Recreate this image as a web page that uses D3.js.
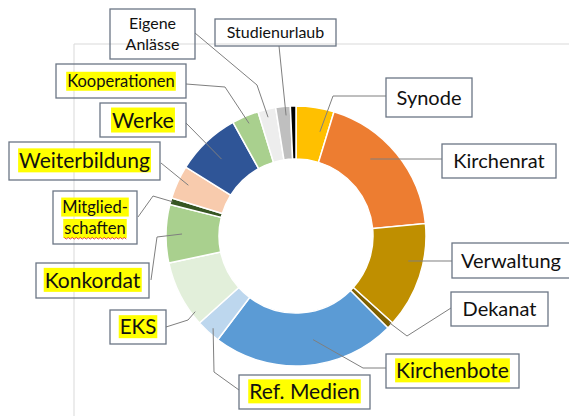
<!DOCTYPE html>
<html>
<head>
<meta charset="utf-8">
<script src="https://cdn.jsdelivr.net/npm/d3@7"></script>
<style>
  body { margin: 0; background: #fff; }
  svg { display: block; }
</style>
</head>
<body>
<svg id="chart" width="569" height="416"></svg>
<script>
// slices, clockwise from 12 o'clock
var categories = ["Synode", "Kirchenrat", "Verwaltung", "Dekanat", "Kirchenbote", "Ref. Medien",
    "EKS", "Konkordat", "Mitgliedschaften", "Weiterbildung", "Werke", "Kooperationen",
    "Eigene Anlässe", "Studienurlaub", "Sonstiges"];
var values = [17, 67.5, 47.5, 3, 82, 11, 30, 26, 3, 15, 29, 12, 8, 6.5, 2.5];
var colors = ["#ffc000", "#ed7d31", "#bf8f00", "#7f6000", "#5b9bd5", "#bdd7ee",
    "#e2efda", "#a9d08e", "#375623", "#f8cbad", "#2f5597", "#a9d08e",
    "#ededed", "#bfbfbf", "#000000"];

// label boxes: text lines, box, font size, highlight, leader anchor (t within slice, r) and elbows
var labelLayout = {
    "Synode":          { lines: ["Synode"], box: [386, 78, 86, 39], fs: 20, hl: false, t: 0.76, r: 107, pts: [[333, 96], [386, 96]] },
    "Kirchenrat":      { lines: ["Kirchenrat"], box: [442, 144, 114, 34], fs: 20, hl: false, t: 0.4, r: 107, pts: [[442, 159]] },
    "Verwaltung":      { lines: ["Verwaltung"], box: [452, 243, 122, 35], fs: 20, hl: false, t: 0.38, r: 115, pts: [[452, 261]], left: 461 },
    "Dekanat":         { lines: ["Dekanat"], box: [451, 292, 97, 34], fs: 20, hl: false, t: 0.3, r: 127, pts: [[407, 336], [451, 308]] },
    "Kirchenbote":     { lines: ["Kirchenbote"], box: [386, 354, 133, 34], fs: 21, hl: true, t: 0.435, r: 105, pts: [[363, 368], [386, 368]] },
    "Ref. Medien":     { lines: ["Ref. Medien"], box: [239, 375, 131, 34], fs: 21, hl: true, t: 0.45, r: 124, pts: [[214, 372], [239, 390]] },
    "EKS":             { lines: ["EKS"], box: [110, 310, 56, 34], fs: 20.5, hl: true, t: 0.17, r: 126, pts: [[188, 320], [166, 327]] },
    "Konkordat":       { lines: ["Konkordat"], box: [36, 263, 113, 35], fs: 21, hl: true, t: 0.5, r: 114, pts: [[157, 237], [151, 280]] },
    "Mitgliedschaften": { lines: ["Mitglied-", "schaften"], box: [53, 191, 84, 53], fs: 16.5, hl: true, t: 0.5, r: 128, pts: [[153, 196], [138, 217]], squiggle: 1 },
    "Weiterbildung":   { lines: ["Weiterbildung"], box: [9, 142, 151, 38], fs: 21, hl: true, t: 0.55, r: 119, pts: [[161, 163]] },
    "Werke":           { lines: ["Werke"], box: [100, 103, 86, 34], fs: 21.5, hl: true, t: 0.48, r: 107, pts: [[186, 123]] },
    "Kooperationen":   { lines: ["Kooperationen"], box: [56, 64, 130, 34], fs: 16.5, hl: true, t: 0.53, r: 122, pts: [[225, 87], [186, 84]] },
    "Eigene Anlässe":  { lines: ["Eigene", "Anlässe"], box: [110, 9, 85, 50], fs: 16, hl: false, t: 0.47, r: 122, pts: [[257, 85], [195, 33]] },
    "Studienurlaub":   { lines: ["Studienurlaub"], box: [215, 19, 121, 27], fs: 16, hl: false, t: 0.66, r: 121, pts: [[279, 46]] }
};

var svg = d3.select("#chart");
var cx = 296, cy = 236;
var innerR = 77, outerR = 130;

var data = categories.map(function (c, i) {
    return { name: c, value: values[i], color: colors[i] };
});

// plot area frame
var frame = svg.append("g").attr("stroke", "#d9d9d9").attr("stroke-width", 1);
frame.append("line").attr("x1", 74).attr("y1", 44).attr("x2", 569).attr("y2", 44);
frame.append("line").attr("x1", 74).attr("y1", 44).attr("x2", 74).attr("y2", 416);

var pie = d3.pie()
    .sort(null)
    .value(function (d) { return d.value; })
    .startAngle(0)
    .endAngle(2 * Math.PI);

var arc = d3.arc()
    .innerRadius(innerR)
    .outerRadius(outerR);

var arcs = pie(data);

var g = svg.append("g").attr("transform", "translate(" + cx + "," + cy + ")");

g.selectAll("path.slice")
    .data(arcs)
    .enter()
    .append("path")
    .attr("class", "slice")
    .attr("d", arc)
    .attr("fill", function (d) { return d.data.color; })
    .attr("stroke", "#fff")
    .attr("stroke-width", 1.5);

// leader lines
var labelArcs = arcs.filter(function (d) { return labelLayout[d.data.name]; });

svg.selectAll("polyline.leader")
    .data(labelArcs)
    .enter()
    .append("polyline")
    .attr("class", "leader")
    .attr("points", function (d) {
        var L = labelLayout[d.data.name];
        var a = d.startAngle + L.t * (d.endAngle - d.startAngle);
        var p = [cx + L.r * Math.sin(a), cy - L.r * Math.cos(a)];
        return [p].concat(L.pts).map(function (q) { return q.join(","); }).join(" ");
    })
    .attr("fill", "none")
    .attr("stroke", "#7f7f7f")
    .attr("stroke-width", 1);

// label boxes
var labels = svg.selectAll("g.label")
    .data(labelArcs)
    .enter()
    .append("g")
    .attr("class", "label");

labels.append("rect")
    .attr("x", function (d) { return labelLayout[d.data.name].box[0]; })
    .attr("y", function (d) { return labelLayout[d.data.name].box[1]; })
    .attr("width", function (d) { return labelLayout[d.data.name].box[2]; })
    .attr("height", function (d) { return labelLayout[d.data.name].box[3]; })
    .attr("fill", "none")
    .attr("stroke", "#6b7685")
    .attr("stroke-width", 1.3);

labels.each(function (d) {
    var L = labelLayout[d.data.name];
    var grp = d3.select(this);
    var n = L.lines.length;
    var lh = L.fs * 1.3;
    var midY = L.box[1] + L.box[3] / 2;
    L.lines.forEach(function (line, i) {
        var y = midY + (i - (n - 1) / 2) * lh + L.fs * 0.35;
        var x = L.left ? L.left : L.box[0] + L.box[2] / 2;
        var hlRect = grp.append("rect").attr("fill", "#ffff00");
        var txt = grp.append("text")
            .text(line)
            .attr("x", x)
            .attr("y", y)
            .attr("text-anchor", L.left ? "start" : "middle")
            .attr("font-family", "Lato, 'Open Sans', sans-serif")
            .attr("font-size", L.fs + "px")
            .attr("fill", "#111");
        var bb = txt.node().getBBox();
        if (L.hl) {
            hlRect.attr("x", bb.x - 1).attr("y", bb.y + 1)
                .attr("width", bb.width + 2).attr("height", bb.height - 1);
        } else {
            hlRect.remove();
        }
        if (L.squiggle === i) {
            var pts = [];
            for (var k = 0; k <= Math.round(bb.width / 2); k++) {
                pts.push([bb.x + k * 2, y + 4 + (k % 2 ? 1 : -0.5)]);
            }
            grp.append("path")
                .attr("d", d3.line()(pts))
                .attr("fill", "none")
                .attr("stroke", "#e0302a")
                .attr("stroke-width", 0.9);
        }
    });
});
</script>
</body>
</html>
